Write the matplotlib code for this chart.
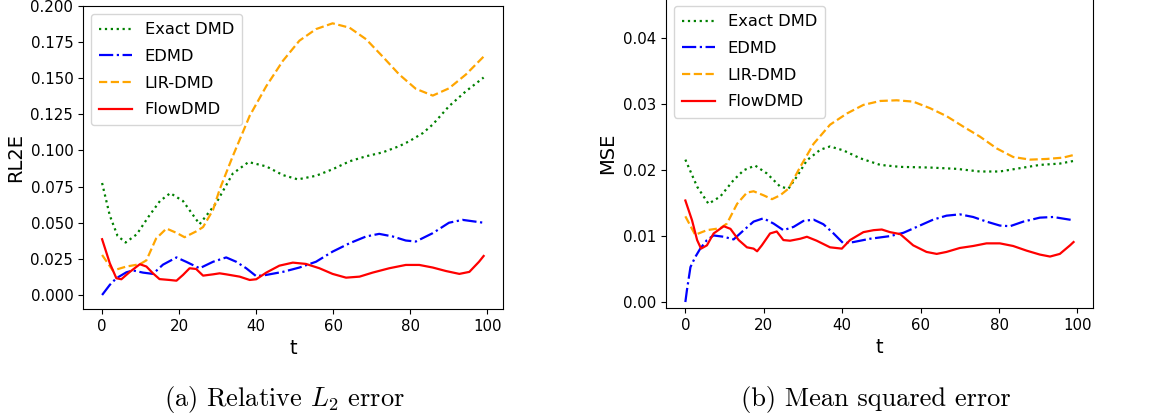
import matplotlib
matplotlib.use("Agg")
import matplotlib.pyplot as plt

plt.rcParams['mathtext.fontset'] = 'cm'

# (a) relative L2 error
t_exact_a = [0, 2, 4, 6.1, 9, 12, 15, 17.7, 21, 25.3, 29.6, 33.9, 38, 42.6, 46.9, 50.8, 55.5, 59.8, 64.2, 68.5, 72.8, 77.1, 79.7, 83.2, 85.8, 90, 94.4, 99]
exact_a = [0.0775, 0.055, 0.041, 0.0363, 0.042, 0.054, 0.065, 0.0705, 0.065, 0.049, 0.0636, 0.084, 0.092, 0.089, 0.083, 0.080, 0.0825, 0.087, 0.0925, 0.096, 0.0987, 0.103, 0.1064, 0.112, 0.118, 0.1306, 0.141, 0.1505]

t_edmd_a = [0, 2, 3.7, 6.3, 8, 10.6, 13.2, 15.8, 19.3, 21.8, 25.3, 28.8, 32.2, 34.8, 37.4, 40, 42.6, 46.9, 51.2, 55.5, 59.8, 64.2, 68.5, 71.9, 75.4, 78.8, 81.4, 85.8, 90, 93.5, 99]
edmd_a = [0.0, 0.007, 0.0116, 0.0157, 0.017, 0.0155, 0.0146, 0.021, 0.026, 0.023, 0.0185, 0.023, 0.026, 0.023, 0.0185, 0.013, 0.0139, 0.016, 0.019, 0.023, 0.030, 0.0358, 0.0405, 0.0423, 0.0405, 0.0377, 0.037, 0.0428, 0.050, 0.052, 0.050]

t_lir_a = [0, 2.8, 6.3, 9.8, 11.5, 14, 16.7, 19.3, 21.4, 24.4, 26.2, 28.8, 30.5, 33.9, 38.3, 42.6, 46.9, 51.2, 55.5, 59.8, 64.2, 68.5, 72.8, 77.1, 81.4, 85.8, 90, 94.4, 99]
lir_a = [0.0277, 0.0169, 0.0197, 0.0213, 0.024, 0.039, 0.046, 0.043, 0.040, 0.044, 0.047, 0.059, 0.073, 0.096, 0.124, 0.1445, 0.162, 0.176, 0.184, 0.188, 0.185, 0.177, 0.165, 0.1526, 0.1427, 0.138, 0.143, 0.1526, 0.165]

t_flow_a = [0, 2, 3.7, 5, 7.2, 9.8, 11.5, 13.2, 14.9, 17.5, 19.3, 21, 22.7, 24.4, 26.2, 28.8, 30.5, 32.2, 35.7, 38.3, 40, 42.6, 46, 49.5, 52.9, 56.4, 59.8, 63.3, 66.8, 70.2, 74.5, 78.8, 82.3, 85.8, 89.2, 92.7, 95.3, 97.8, 99]
flow_a = [0.0386, 0.022, 0.0116, 0.0109, 0.016, 0.0213, 0.0197, 0.015, 0.011, 0.0104, 0.0099, 0.0139, 0.0185, 0.018, 0.0134, 0.0143, 0.015, 0.0143, 0.0127, 0.0104, 0.0109, 0.0155, 0.0203, 0.0224, 0.0215, 0.0185, 0.0146, 0.012, 0.0127, 0.0155, 0.0185, 0.0208, 0.0208, 0.019, 0.0166, 0.0146, 0.016, 0.023, 0.027]

# (b) mean squared error
t_exact_b = [0, 3, 5.9, 8.9, 12.3, 14.9, 17.8, 20.8, 24.2, 26.3, 28.4, 31, 34.4, 36.9, 40.3, 44.6, 49.7, 54.8, 62.4, 69.2, 75.1, 80.2, 85.3, 90.4, 95.5, 99]
exact_b = [0.0216, 0.0175, 0.0149, 0.016, 0.0185, 0.020, 0.0207, 0.0195, 0.0175, 0.0172, 0.019, 0.0215, 0.0231, 0.0236, 0.023, 0.0218, 0.0208, 0.0205, 0.0204, 0.0202, 0.0198, 0.0198, 0.0203, 0.0208, 0.021, 0.0214]

t_edmd_b = [0, 0.4, 1.3, 2.5, 3.8, 5.5, 7.2, 9.8, 12.3, 14.9, 17.4, 19.9, 22.5, 25, 27.6, 30.1, 32.7, 35.2, 37.8, 40.3, 42.9, 47.1, 52.2, 55.6, 59.8, 63.2, 66.6, 70, 73.4, 76.8, 80.2, 82.8, 86.2, 90.4, 93.8, 99]
edmd_b = [0.0, 0.0018, 0.0053, 0.0068, 0.0081, 0.0094, 0.0101, 0.0099, 0.0095, 0.0109, 0.0122, 0.0127, 0.0119, 0.0109, 0.0114, 0.0123, 0.0125, 0.0118, 0.0104, 0.0089, 0.0091, 0.0096, 0.010, 0.0105, 0.0116, 0.0125, 0.0131, 0.0133, 0.0129, 0.0122, 0.0116, 0.0115, 0.0122, 0.0128, 0.0129, 0.0124]

t_lir_b = [0, 2.5, 5.5, 8.9, 10.6, 13.2, 15.7, 17.4, 19.9, 22.1, 24.2, 26.3, 29.3, 32.7, 36.9, 41.2, 45.4, 49.7, 53.9, 58.1, 62.4, 66.6, 70.9, 75.1, 79.4, 83.6, 87.9, 92.1, 96.3, 99]
lir_b = [0.013, 0.0102, 0.0109, 0.0112, 0.0119, 0.0149, 0.0166, 0.0168, 0.0162, 0.0156, 0.0162, 0.0172, 0.0205, 0.024, 0.0269, 0.0286, 0.0299, 0.0305, 0.0306, 0.0304, 0.0294, 0.0282, 0.0266, 0.0251, 0.0233, 0.022, 0.0216, 0.0217, 0.0219, 0.0223]

t_flow_b = [0, 1.7, 3, 4, 5.5, 7.2, 9.8, 11.5, 13.6, 15.7, 17.4, 18.3, 19.5, 21.6, 23.3, 25, 26.7, 29.3, 31, 33.5, 36.9, 39.9, 42, 45.4, 48, 50.1, 52.2, 54.8, 58.1, 61.5, 64.1, 66.6, 70, 73.4, 76.8, 80.2, 83.6, 87, 90.4, 93, 95.5, 98.1, 99]
flow_b = [0.0154, 0.0124, 0.0094, 0.0081, 0.0086, 0.0104, 0.0115, 0.0111, 0.0094, 0.0083, 0.0081, 0.0077, 0.0086, 0.0104, 0.0107, 0.0094, 0.0093, 0.0096, 0.0099, 0.0093, 0.0083, 0.0081, 0.0094, 0.0106, 0.0109, 0.011, 0.0106, 0.0103, 0.0086, 0.0076, 0.0073, 0.0076, 0.0082, 0.0085, 0.0089, 0.0089, 0.0085, 0.0078, 0.0072, 0.0069, 0.0073, 0.0086, 0.0091]

labels = ["Exact DMD", "EDMD", "LIR-DMD", "FlowDMD"]

fig = plt.figure(figsize=(11.61, 4.19), dpi=100)
ax1 = fig.add_axes([0.0715, 0.2625, 0.3615, 0.7232])
ax2 = fig.add_axes([0.5736, 0.265, 0.3678, 0.7395])

def draw(ax, series, ylabel):
    styles = [dict(color='green', ls=':'), dict(color='blue', ls='-.'),
              dict(color='orange', ls='--'), dict(color='red', ls='-')]
    for (tt, yy), lab, st in zip(series, labels, styles):
        ax.plot(tt, yy, lw=1.6, label=lab, **st)
    ax.set_xlabel('t', fontsize=14)
    ax.set_ylabel(ylabel, fontsize=14)
    ax.tick_params(labelsize=10.8)
    ax.set_xticks([0, 20, 40, 60, 80, 100])
    ax.set_xlim(-4.95, 103.95)
    ax.legend(loc='upper left', fontsize=11.7, labelspacing=0.72, borderpad=0.5)

draw(ax1, [(t_exact_a, exact_a), (t_edmd_a, edmd_a), (t_lir_a, lir_a), (t_flow_a, flow_a)], 'RL2E')
ax1.set_ylim(-0.0097, 0.2)
ax1.set_yticks([0, 0.025, 0.05, 0.075, 0.1, 0.125, 0.15, 0.175, 0.2])
ax1.set_yticklabels(['0.000', '0.025', '0.050', '0.075', '0.100', '0.125', '0.150', '0.175', '0.200'])

draw(ax2, [(t_exact_b, exact_b), (t_edmd_b, edmd_b), (t_lir_b, lir_b), (t_flow_b, flow_b)], 'MSE')
ax2.set_ylim(-0.0009, 0.0461)
ax2.set_yticks([0, 0.01, 0.02, 0.03, 0.04])
ax2.set_yticklabels(['0.00', '0.01', '0.02', '0.03', '0.04'])

# captions under each panel
fig.text(0.2446, 0.032, r"(a) Relative $L_2$ error", ha='center', fontsize=19, family='cmr10')
fig.text(0.7545, 0.032, "(b) Mean squared error", ha='center', fontsize=19, family='cmr10')

fig.savefig('out.png', dpi=100)
